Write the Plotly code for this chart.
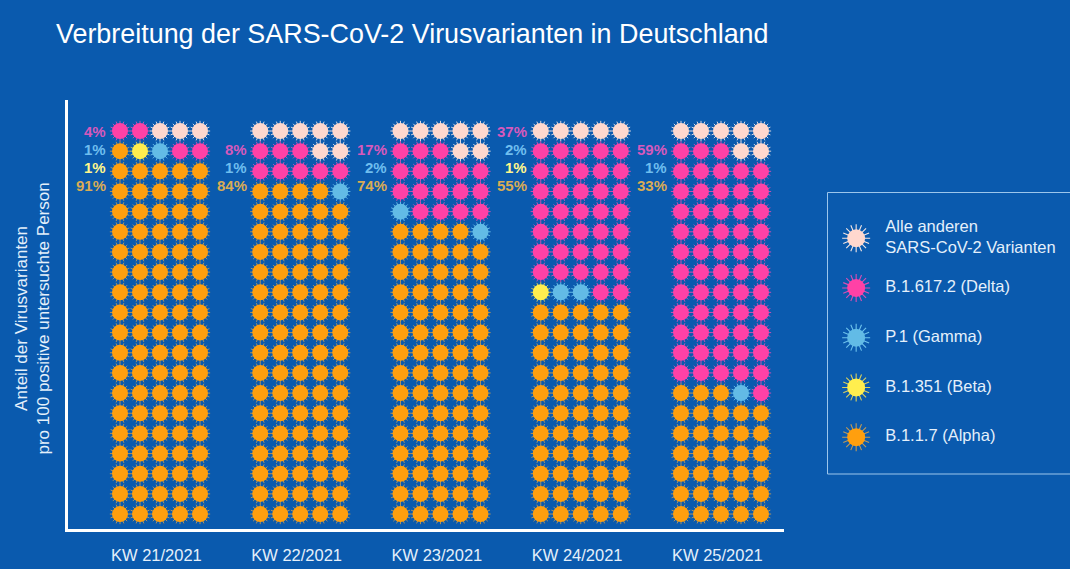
import plotly.graph_objects as go

W, H = 1070, 569
weeks = ["KW 21/2021", "KW 22/2021", "KW 23/2021", "KW 24/2021", "KW 25/2021"]
variants = ["B.1.1.7 (Alpha)", "B.1.351 (Beta)", "P.1 (Gamma)", "B.1.617.2 (Delta)", "Alle anderen<br>SARS-CoV-2 Varianten"]
alpha = [91, 84, 74, 55, 33]
beta = [1, 0, 0, 1, 0]
gamma = [1, 1, 2, 2, 1]
delta = [4, 8, 17, 37, 59]
other = [3, 7, 7, 5, 7]
series = [alpha, beta, gamma, delta, other]

BG = "#0A5AAE"
core = ["#FF9F0E", "#FFEE4E", "#62BBE6", "#FF41A6", "#FFD8CE"]
spike = ["#BE9A58", "#D8D060", "#6FC3EC", "#D850B4", "#F4E6E4"]
label_col = ["#D9AC55", "#FFF68C", "#6FBEEE", "#D659BC"]
TXT = "#E4F0FB"

COLS, ROWS = 5, 20
GROUP_STEP = 7.0125
ANGLES = [0, 22.5, 45, 67.5]
# vertical position of the percentage labels, bottom label first, in row units
SLOTS = [2.68, 1.79, 0.94, 0.0]

def spiked(x, y, k, csize, ssize, xa, ya, lw=0.9):
    tr = []
    tr.append(go.Scatter(
        x=list(x) * len(ANGLES), y=list(y) * len(ANGLES), xaxis=xa, yaxis=ya, mode="markers",
        hoverinfo="skip", showlegend=False,
        marker=dict(symbol="cross-thin-open", size=ssize, color=spike[k],
                    angle=[a for a in ANGLES for _ in x],
                    line=dict(color=spike[k], width=lw))))
    tr.append(go.Scatter(
        x=list(x), y=list(y), xaxis=xa, yaxis=ya, mode="markers", hoverinfo="skip", showlegend=False,
        marker=dict(symbol="circle", size=csize, color=core[k], line=dict(width=0))))
    return tr

fig = go.Figure()

# fill each 100-dot block from bottom-left, row by row
points = {k: ([], []) for k in range(len(series))}
for w in range(len(weeks)):
    n = 0
    for k, s in enumerate(series):
        for _ in range(s[w]):
            r, c = divmod(n, COLS)
            points[k][0].append(w * GROUP_STEP + c)
            points[k][1].append(ROWS - 1 - r)
            n += 1
for k in points:
    for t in spiked(points[k][0], points[k][1], k, 16, 14.5, "x", "y"):
        fig.add_trace(t)

# hand-made legend on its own axes
for k in range(len(variants)):
    for t in spiked([0.12], [k], k, 18, 20, "x2", "y2", 1.1):
        fig.add_trace(t)
fig.add_trace(go.Scatter(
    x=[0.24] * len(variants), y=list(range(len(variants))), xaxis="x2", yaxis="y2",
    mode="text", text=variants, textposition="middle right", hoverinfo="skip", showlegend=False,
    textfont=dict(family="Liberation Sans", size=16.5, color=TXT)))

ann = []
for w in range(len(weeks)):
    slot = 0
    for k in range(4):  # alpha, beta, gamma, delta stacked upward; empty ones get no label
        v = series[k][w]
        if v == 0:
            continue
        ann.append(dict(
            x=w * GROUP_STEP - 0.58, y=SLOTS[slot], xref="x", yref="y", xanchor="right", yanchor="middle",
            text=f"<b>{v}%</b>", showarrow=False,
            font=dict(family="Liberation Sans", size=15, color=label_col[k])))
        slot += 1

ann.append(dict(
    x=31.5 / W, y=1 - 319 / H, xref="paper", yref="paper", xanchor="center", yanchor="middle",
    text="Anteil der Virusvarianten<br>pro 100 positive untersuchte Person", textangle=-90, showarrow=False,
    font=dict(family="Liberation Sans", size=17, color=TXT)))

def px(a, b):
    return [a / W, b / W]
def py(top, bottom):
    return [1 - bottom / H, 1 - top / H]

x0 = (68 - 120) / 20.0
x1 = (784 - 120) / 20.0
row = 20.16
fig.update_layout(
    width=W, height=H, autosize=False,
    margin=dict(l=0, r=0, t=0, b=0),
    paper_bgcolor=BG, plot_bgcolor=BG,
    showlegend=False,
    title=dict(text="Verbreitung der SARS-CoV-2 Virusvarianten in Deutschland",
               x=56 / W, xanchor="left", xref="paper", y=1 - 34 / H, yanchor="middle", yref="paper",
               font=dict(family="Liberation Sans", size=26.9, color="#FFFFFF")),
    xaxis=dict(domain=px(68, 784), range=[x0, x1], showgrid=False, zeroline=False,
               showline=True, linewidth=3, linecolor="#FFFFFF",
               tickmode="array", tickvals=[i * GROUP_STEP + 1.82 for i in range(len(weeks))], ticktext=weeks,
               ticks="", ticklabelstandoff=9,
               tickfont=dict(family="Liberation Sans", size=16.5, color=TXT)),
    yaxis=dict(domain=py(100, 529), range=[(529 - 131) / row, (100 - 131) / row], showgrid=False, zeroline=False,
               showline=True, linewidth=3, linecolor="#FFFFFF", showticklabels=False, ticks=""),
    xaxis2=dict(domain=px(827, 1070), range=[0, 1], visible=False, anchor="y2"),
    yaxis2=dict(domain=py(192, 474), range=[-0.74, 4.93], visible=False, anchor="x2"),
    annotations=ann,
    shapes=[dict(type="rect", xref="paper", yref="paper", x0=827.5 / W, x1=1.02, y0=1 - 474 / H, y1=1 - 192.5 / H,
                 line=dict(color="#9CC6EC", width=1), fillcolor="rgba(0,0,0,0)")],
)
fig.write_html("out.html", config={"displayModeBar": False},
               post_script="document.body.style.margin='0';document.body.style.background='%s';document.body.style.overflow='hidden';" % BG)
